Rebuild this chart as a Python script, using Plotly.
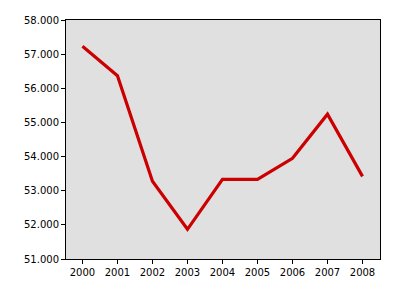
import plotly.graph_objects as go

years = [2000, 2001, 2002, 2003, 2004, 2005, 2006, 2007, 2008]
values = [57230, 56370, 53280, 51870, 53330, 53330, 53950, 55240, 53420]
y_ticks = [51000, 52000, 53000, 54000, 55000, 56000, 57000, 58000]

fig = go.Figure()
fig.add_trace(go.Scatter(x=years, y=values, mode="lines",
                         line=dict(color="#cc0000", width=3.2)))

fig.update_layout(
    width=400, height=300,
    margin=dict(l=66, r=20, t=20, b=41),
    paper_bgcolor="white", plot_bgcolor="#e0e0e0",
    separators=",.",
    showlegend=False,
    font=dict(family="DejaVu Sans", size=10, color="black"),
)
fig.update_xaxes(range=[1999.53, 2008.5], tickvals=years, ticktext=[str(y) for y in years],
                 showgrid=False, zeroline=False, showline=True, mirror=True,
                 linecolor="black", linewidth=1, ticks="outside", ticklen=4,
                 tickcolor="black", tickfont=dict(size=10))
fig.update_yaxes(range=[51000, 58000], tickvals=y_ticks, tickformat=",d",
                 showgrid=False, zeroline=False, showline=True, mirror=True,
                 linecolor="black", linewidth=1, ticks="outside", ticklen=4,
                 tickcolor="black", tickfont=dict(size=10))

fig.write_html("out.html")
